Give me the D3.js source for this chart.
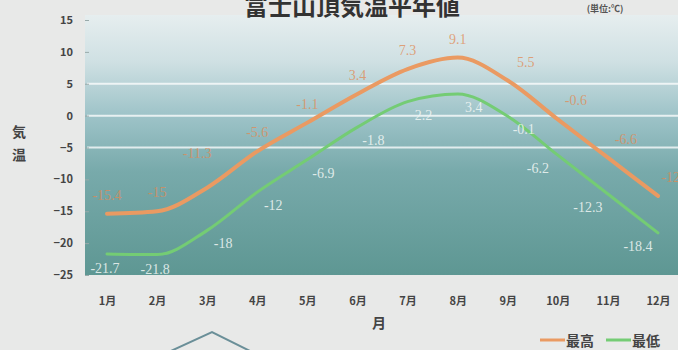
<!DOCTYPE html>
<html>
<head>
<meta charset="utf-8">
<script src="https://cdn.jsdelivr.net/npm/d3@7"></script>
<style>
    body { margin: 0; background: #e8e9e8; }
    svg { display: block; }
    text { font-family: "Noto Sans CJK JP", "Noto Sans", sans-serif; }
</style>
</head>
<body>
<svg id="chart"></svg>
<script>
var months = ["1月","2月","3月","4月","5月","6月","7月","8月","9月","10月","11月","12月"]
var highTemps = [-15.4, -15, -11.3, -5.6, -1.1, 3.4, 7.3, 9.1, 5.5, -0.6, -6.6, -12.6]
var lowTemps = [-21.7, -21.8, -18, -12, -6.9, -1.8, 2.2, 3.4, -0.1, -6.2, -12.3, -18.4]
var yTicks = [15, 10, 5, 0, -5, -10, -15, -20, -25]
var gridValues = [5, 0, -5]

var dimensions = {
    width: 678,
    height: 350,
    margin: { top: 18, bottom: 75, left: 85, right: 0 }
}

var svg = d3.select("#chart")
    .attr("width", dimensions.width)
    .attr("height", dimensions.height)

var xScale = d3.scalePoint()
    .domain(months)
    .range([107, 658])

var yScale = d3.scaleLinear()
    .domain([-25, 15])
    .range([dimensions.height - dimensions.margin.bottom, 20])

// plot background gradient
var defs = svg.append("defs")
var grad = defs.append("linearGradient")
    .attr("id", "bg")
    .attr("x1", 0).attr("y1", 0).attr("x2", 0).attr("y2", 1)
grad.append("stop").attr("offset", "0%").attr("stop-color", "#e6eeef")
grad.append("stop").attr("offset", "18%").attr("stop-color", "#cfe0e3")
grad.append("stop").attr("offset", "38%").attr("stop-color", "#9fc4c9")
grad.append("stop").attr("offset", "60%").attr("stop-color", "#78aaab")
grad.append("stop").attr("offset", "100%").attr("stop-color", "#5e9793")

svg.append("rect")
    .attr("x", dimensions.margin.left)
    .attr("y", 15)
    .attr("width", dimensions.width - dimensions.margin.left)
    .attr("height", yScale(-25) - 15)
    .attr("fill", "url(#bg)")

// gridlines (only 5, 0, -5 show in the original)
svg.append("g")
    .selectAll("line")
    .data(gridValues)
    .enter()
    .append("line")
    .attr("x1", dimensions.margin.left + 2)
    .attr("x2", dimensions.width)
    .attr("y1", d => yScale(d))
    .attr("y2", d => yScale(d))
    .attr("stroke", "#ffffff")
    .attr("stroke-opacity", 0.75)
    .attr("stroke-width", 2)

// y axis
var yAxisGen = d3.axisLeft(yScale).tickValues(yTicks).tickSize(4).tickPadding(12)
var yAxis = svg.append("g")
    .attr("transform", `translate(${dimensions.margin.left + 4},0)`)
    .call(yAxisGen)
yAxis.select(".domain").remove()
yAxis.selectAll(".tick line").attr("stroke", "#9aa")
yAxis.selectAll("text")
    .attr("fill", "#444")
    .attr("font-size", 11)
    .attr("font-weight", "bold")

// x axis
var xAxisGen = d3.axisBottom(xScale).tickSize(0).tickPadding(22)
var xAxis = svg.append("g")
    .attr("transform", `translate(0,${yScale(-25)})`)
    .call(xAxisGen)
xAxis.select(".domain").remove()
xAxis.selectAll("text")
    .attr("fill", "#444")
    .attr("font-size", 11)
    .attr("font-weight", "bold")

// lines
var lineGen = (values) => d3.line()
    .x((d, i) => xScale(months[i]))
    .y(d => yScale(d))
    .curve(d3.curveMonotoneX)(values)

svg.append("path")
    .attr("d", lineGen(highTemps))
    .attr("fill", "none")
    .attr("stroke", "#ea9a62")
    .attr("stroke-width", 4)
    .attr("stroke-linecap", "round")

svg.append("path")
    .attr("d", lineGen(lowTemps))
    .attr("fill", "none")
    .attr("stroke", "#74cc74")
    .attr("stroke-width", 3)
    .attr("stroke-linecap", "round")

// data labels (serif, like the slide)
svg.append("g")
    .selectAll("text")
    .data(highTemps)
    .enter()
    .append("text")
    .attr("x", (d, i) => xScale(months[i]) + (i >= 8 ? 18 : (i == 2 ? -10 : 0)))
    .attr("y", (d, i) => yScale(d) - (i == 2 ? 30 : 14))
    .attr("text-anchor", "middle")
    .style("font-family", "'Liberation Serif', 'DejaVu Serif', serif")
    .attr("font-size", 14)
    .attr("fill", "#e08a55")
    .attr("fill-opacity", 0.75)
    .text(d => d)

svg.append("g")
    .selectAll("text")
    .data(lowTemps)
    .enter()
    .append("text")
    .attr("x", (d, i) => xScale(months[i]) + (i < 2 ? -2 : (i >= 9 ? -20 : 16)))
    .attr("y", (d, i) => yScale(d) + (i < 2 ? 19 : 18))
    .attr("text-anchor", "middle")
    .style("font-family", "'Liberation Serif', 'DejaVu Serif', serif")
    .attr("font-size", 14)
    .attr("fill", "#f2f7f5")
    .attr("fill-opacity", 0.85)
    .text(d => d)

// title and labels
svg.append("text")
    .attr("x", 352)
    .attr("y", 15)
    .attr("text-anchor", "middle")
    .attr("font-size", 24)
    .attr("font-weight", "bold")
    .attr("fill", "#333")
    .text("富士山頂気温平年値")

svg.append("text")
    .attr("x", 605)
    .attr("y", 12)
    .attr("text-anchor", "middle")
    .attr("font-size", 9)
    .attr("font-weight", "bold")
    .attr("fill", "#555")
    .text("(単位:℃)")

var yLabel = svg.append("text")
    .attr("font-size", 14)
    .attr("font-weight", "bold")
    .attr("fill", "#444")
    .attr("text-anchor", "middle")
yLabel.append("tspan").attr("x", 19).attr("y", 137).text("気")
yLabel.append("tspan").attr("x", 19).attr("y", 160).text("温")

svg.append("text")
    .attr("x", 379)
    .attr("y", 328)
    .attr("text-anchor", "middle")
    .attr("font-size", 14)
    .attr("font-weight", "bold")
    .attr("fill", "#444")
    .text("月")

// legend
var legendItems = [
    { name: "最高", color: "#ea9a62", x: 540 },
    { name: "最低", color: "#74cc74", x: 606 }
]
var legend = svg.append("g")
    .selectAll("g")
    .data(legendItems)
    .enter()
    .append("g")
    .attr("transform", d => `translate(${d.x},344)`)
legend.append("line")
    .attr("x1", 0).attr("x2", 25)
    .attr("y1", -4).attr("y2", -4)
    .attr("stroke", d => d.color)
    .attr("stroke-width", 3)
legend.append("text")
    .attr("x", 26)
    .attr("y", 2)
    .attr("font-size", 14)
    .attr("font-weight", "bold")
    .attr("fill", "#444")
    .text(d => d.name)

// decorative shape below chart
svg.append("path")
    .attr("d", "M160,356 L212,332 L260,356")
    .attr("fill", "none")
    .attr("stroke", "#6a8f98")
    .attr("stroke-width", 2)
</script>
</body>
</html>
